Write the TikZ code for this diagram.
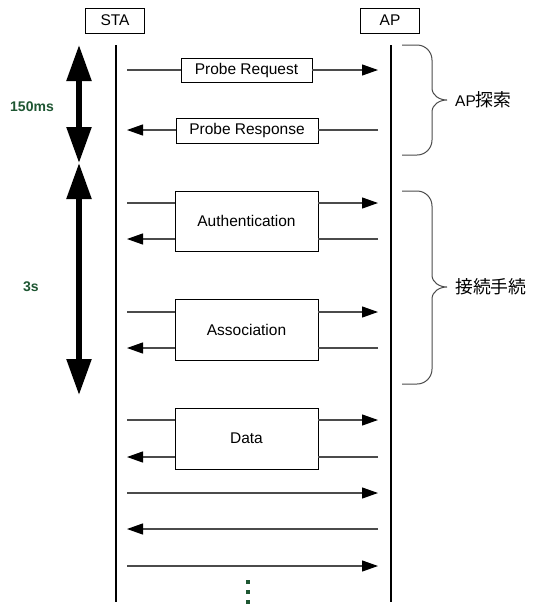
\documentclass[tikz,border=0pt]{standalone}
\usepackage{fontspec}
\setmainfont{Liberation Sans}
\newfontfamily\jpfont[Scale=1.15]{Noto Sans CJK JP}
\usetikzlibrary{positioning, calc, arrows.meta}
\definecolor{green538}{RGB}{30,86,50}
\definecolor{grey538}{RGB}{75,75,75}

\begin{document}
\begin{tikzpicture}[
    x = 1pt, y = -1pt,
    font = \fontsize{15.5}{17}\selectfont,
    msg/.style = {draw = grey538, line width = 1.2pt},
    tip/.style = {-{Triangle[length = 16pt, width = 11pt, color = black]}},
    brace/.style = {draw = grey538, line width = 1pt},
  ]
  \tikzstyle {station} = [draw, line width = 0.8pt, minimum width = 59pt, minimum height = 25pt, inner sep = 0]
  \tikzstyle {frame} = [draw, line width = 0.8pt, inner sep = 0]
  \tikzstyle {lifeline} = [line width = 2.5pt]
  \tikzstyle {period} = [line width = 5.5pt, {Triangle[length = 36pt, width = 24pt]}-{Triangle[length = 36pt, width = 24pt]}]
  \tikzstyle {timing} = [text = green538, font = \fontsize{14}{16}\selectfont\bfseries]
  \useasboundingbox (0,0) rectangle (533,606);
  % place nodes
  \path node (sta) [station] at (115,20.5) {STA};
  \path node (ap) [station] at (390,20.5) {AP};
  \path node (req) [frame, minimum width = 131pt, minimum height = 24pt] at (246.5,70) {Probe Request};
  \path node (rsp) [frame, minimum width = 142pt, minimum height = 25pt] at (247,130.5) {Probe Response};
  \path node (auth) [frame, minimum width = 143pt, minimum height = 60pt] at (246.5,221) {Authentication};
  \path node (assoc) [frame, minimum width = 143pt, minimum height = 61pt] at (246.5,329.5) {Association};
  \path node (data) [frame, minimum width = 143pt, minimum height = 61pt] at (246.5,438.5) {Data};
  \path node (t150) [timing] at (32,107) {150ms};
  \path node (t3) [timing] at (31,287) {3s};
  \path node (scan) [anchor = west, inner sep = 0] at (455,100) {AP{\jpfont 探索}};
  \path node (join) [anchor = west, inner sep = 0] at (455,287) {\jpfont 接続手続};
  % lifelines
  \coordinate (sta top) at (116,45);
  \coordinate (sta end) at (116,602);
  \coordinate (ap top) at (391,45);
  \coordinate (ap end) at (391,602);
  \draw [lifeline] (sta top) -- (sta end);
  \draw [lifeline] (ap top) -- (ap end);
  % message ends
  \foreach \n/\y in {req/70, rsp/130, au1/203, au2/239, as1/312, as2/348, da1/420, da2/457, m1/493, m2/529, m3/566}
    { \coordinate (s\n) at (127,\y); \coordinate (a\n) at (378,\y); } ;
  % place edges
  \draw [msg] (sreq) -- (sreq -| req.west);
  \draw [msg, tip] (areq -| req.east) -- (areq);
  \draw [msg] (arsp) -- (arsp -| rsp.east);
  \draw [msg, tip] (srsp -| rsp.west) -- (srsp);
  \foreach \b/\u/\v in {auth/au1/au2, assoc/as1/as2, data/da1/da2}
    { \draw [msg] (s\u) -- (s\u -| \b.west);
      \draw [msg, tip] (s\u -| \b.east) -- (a\u);
      \draw [msg] (a\v) -- (a\v -| \b.east);
      \draw [msg, tip] (a\v -| \b.west) -- (s\v); } ;
  \draw [msg, tip] (sm1) -- (am1);
  \draw [msg, tip] (am2) -- (sm2);
  \draw [msg, tip] (sm3) -- (am3);
  % more to come
  \foreach \y in {582, 592, 602}
    { \fill [green538] (245.5,\y-2) rectangle +(4,4); } ;
  % time spans
  \coordinate (p0) at (79,45);
  \coordinate (p1) at (79,163);
  \coordinate (p2) at (79,395);
  \draw [period] (p0) -- (p1);
  \draw [period] (p1) -- (p2);
  % braces
  \foreach \ya/\yb/\yc in {45/100/155, 191/287/384}
    { \draw [brace] (402,\ya) -- (417,\ya) to [out = 0, in = 90] (432,\ya+15) -- (432,\yb-12)
        to [out = -90, in = 180] (447,\yb) to [out = 180, in = 90] (432,\yb+12) -- (432,\yc-15)
        to [out = -90, in = 0] (417,\yc) -- (402,\yc); } ;
\end{tikzpicture}
\end{document}
